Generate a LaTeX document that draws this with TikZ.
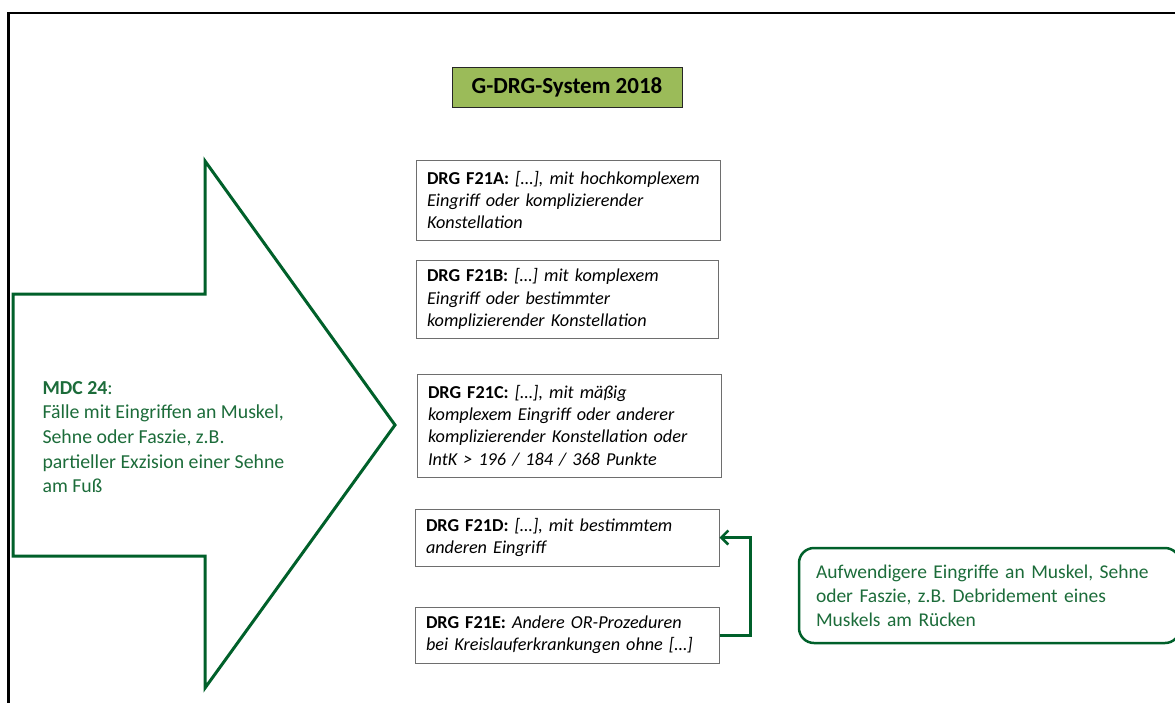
\documentclass[tikz,border=0pt]{standalone}
\usepackage{fontspec}
\setmainfont{Carlito}
\usetikzlibrary{arrows.meta}
\definecolor{dgreen}{RGB}{0,96,42}
\definecolor{tgreen}{RGB}{28,108,58}
\definecolor{olive}{RGB}{155,187,89}
\definecolor{bgray}{RGB}{110,110,110}
\tikzset{
  drg/.style={draw=bgray, line width=1pt, rectangle, inner xsep=11pt, inner ysep=0pt,
    align=left, font=\fontsize{18.2}{22.3}\selectfont, anchor=center},
  conn/.style={draw=dgreen, line width=3pt, -{Straight Barb[length=7pt,width=14pt,line width=2.5pt]}},
}
\begin{document}
\begin{tikzpicture}[x=1pt,y=-1pt]
\useasboundingbox (0,0) rectangle (1175,702);
\clip (0,0) rectangle (1175,702);
% frame
\draw[line width=2.5pt, black] (8.5,704) -- (8.5,13) -- (1180,13);
% big arrow
\draw[dgreen, line width=3pt, line join=miter]
  (13,294) -- (205,294) -- (205,161) -- (395,425) -- (205,688) -- (205,556) -- (13,556) -- cycle;
\node[anchor=west, align=left, text=tgreen, font=\fontsize{19.8}{24.7}\selectfont] (mdc) at (39,437)
  {\textbf{MDC 24}:\\Fälle mit Eingriffen an Muskel,\\Sehne oder Faszie, z.B.\\partieller Exzision einer Sehne\\am Fuß};
% title
\node[draw=black!85, line width=1pt, fill=olive, minimum width=230pt, minimum height=40pt,
  font=\fontsize{23}{26}\selectfont\bfseries] (title) at (567,87) {G-DRG-System 2018};
% DRG boxes
\node[drg, minimum width=304pt, minimum height=80pt, text width=282pt] (A) at (568,200)
  {\textbf{DRG F21A:} \textit{[…], mit hochkomplexem\\Eingriff oder komplizierender\\Konstellation}};
\node[drg, minimum width=302pt, minimum height=78pt, text width=280pt] (B) at (567,299)
  {\textbf{DRG F21B:} \textit{[…] mit komplexem\\Eingriff oder bestimmter\\komplizierender Konstellation}};
\node[drg, minimum width=304pt, minimum height=103pt, text width=282pt] (C) at (569,425.5)
  {\textbf{DRG F21C:} \textit{[…], mit mäßig\\komplexem Eingriff oder anderer\\komplizierender Konstellation oder\\IntK > 196 / 184 / 368 Punkte}};
\node[drg, minimum width=304pt, minimum height=57pt, text width=282pt] (D) at (567,537.5)
  {\textbf{DRG F21D:} \textit{[…], mit bestimmtem\\anderen Eingriff}};
\node[drg, minimum width=304pt, minimum height=56pt, text width=282pt] (E) at (567,635)
  {\textbf{DRG F21E:} \textit{Andere OR-Prozeduren\\bei Kreislauferkrankungen ohne […]}};
% connector
\draw[conn] (E.east) -- ++(31,0) |- (D.east);
% right box
\node[draw=dgreen, line width=2.5pt, rounded corners=15pt, minimum width=381pt, minimum height=95pt,
  text width=347pt, inner xsep=17pt, align=left, text=tgreen, font=\fontsize{19.5}{24}\selectfont] (F) at (989.5,595.5)
  {Aufwendigere Eingriffe an Muskel, Sehne\\oder Faszie, z.B. Debridement eines\\Muskels am Rücken};
\end{tikzpicture}
\end{document}
